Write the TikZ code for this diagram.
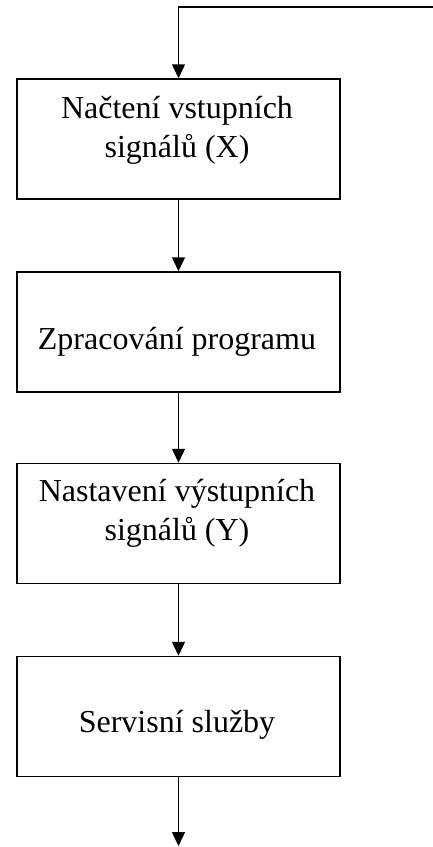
\documentclass[tikz,border=0pt]{standalone}
\usepackage{fontspec}
\setmainfont{Liberation Serif}
\usetikzlibrary{positioning,arrows.meta}

\tikzset{
  box/.style={draw, line width=0.75pt, minimum width=161.5pt, minimum height=60pt, inner sep=0pt},
  boxtext/.style={anchor=base, align=center, inner sep=0pt, font=\fontsize{16pt}{19.5pt}\selectfont},
  flow/.style={draw, line width=0.75pt, -{Triangle[width=6.5pt,length=7pt]}}
}

\begin{document}
\begin{tikzpicture}[x=0.5pt, y=-0.5pt]
\useasboundingbox (0,0) rectangle (433,847);
% Boxes
\node[box] (read) at (178.5,139) {};
\node[box] (proc) at (178.5,332) {};
\node[box] (write) at (178.5,523.5) {};
\node[box] (serv) at (178.5,716.5) {};
% Texts
\node[boxtext] (readtxt) at (177,157) {Načtení vstupních\\signálů (X)};
\node[boxtext] (proctxt) at (177,349) {Zpracování programu};
\node[boxtext] (writetxt) at (177,540) {Nastavení výstupních\\signálů (Y)};
\node[boxtext] (servtxt) at (177,732) {Servisní služby};
% Connectors
\coordinate (loop) at (433,7);
\coordinate (out) at (178.5,846);
\draw[flow] (loop) -| (read.north);
\draw[flow] (read) -- (proc);
\draw[flow] (proc) -- (write);
\draw[flow] (write) -- (serv);
\draw[flow] (serv) -- (out);
\end{tikzpicture}
\end{document}
